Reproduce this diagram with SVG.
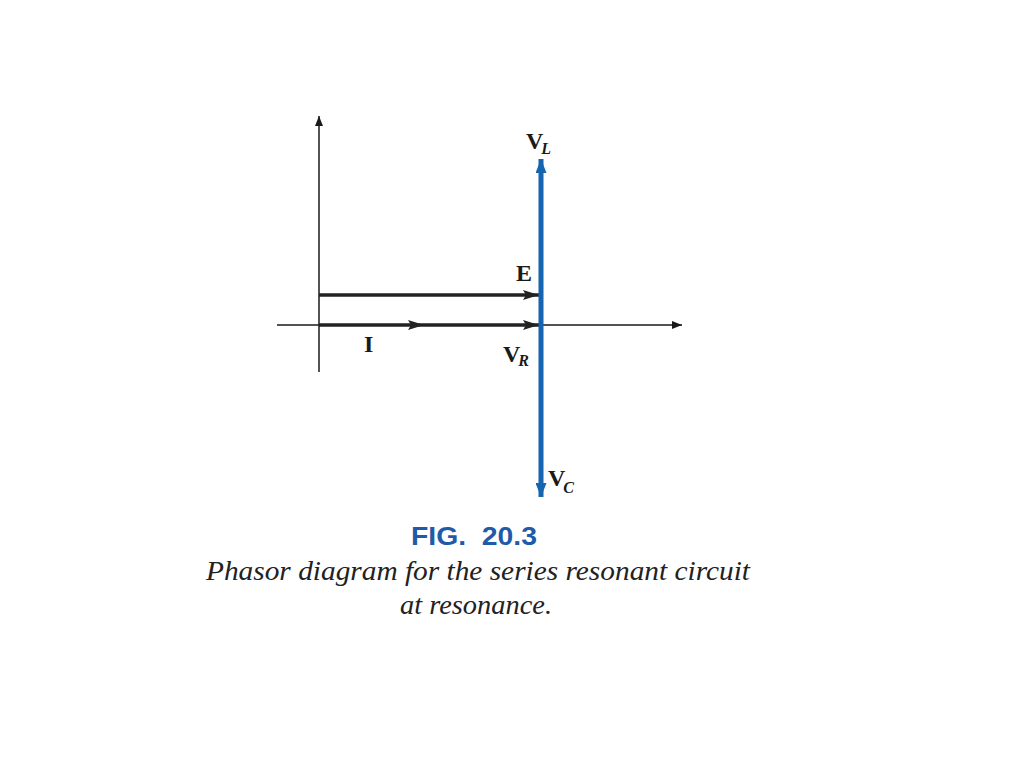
<svg xmlns="http://www.w3.org/2000/svg" width="1024" height="768" viewBox="0 0 1024 768">
<style>
.lbl{font-family:"Liberation Serif",serif;font-size:24px;font-weight:bold;fill:#1a1a1a}
.sub{font-family:"Liberation Serif",serif;font-size:16px;font-style:italic;font-weight:bold;fill:#1a1a1a}
.cap{font-family:"Liberation Serif",serif;font-size:27px;font-style:italic;fill:#222}
.fig{font-family:"Liberation Sans",sans-serif;font-size:25px;font-weight:bold;fill:#1f5ba8}
</style>
<defs>
<marker id="ah" markerWidth="10" markerHeight="8" refX="10" refY="4" orient="auto" markerUnits="userSpaceOnUse">
<path d="M0,0 L10,4 L0,8 Z" fill="#1a1a1a"/>
</marker>
<marker id="ahb" markerWidth="16" markerHeight="10" refX="16" refY="5" orient="auto" markerUnits="userSpaceOnUse">
<path d="M0,0 L16,5 L0,10 L3,5 Z" fill="#222"/>
</marker>
<marker id="ahblue" markerWidth="14" markerHeight="11" refX="14" refY="5.5" orient="auto" markerUnits="userSpaceOnUse">
<path d="M0,0 L14,5.5 L0,11 Z" fill="#1565b0"/>
</marker>
</defs>
<rect width="1024" height="768" fill="#fff"/>
<g id="axes">
<line x1="319" y1="372" x2="319" y2="116" stroke="#1a1a1a" stroke-width="1.5" marker-end="url(#ah)"/>
<line x1="277" y1="325" x2="682" y2="325" stroke="#1a1a1a" stroke-width="1.5" marker-end="url(#ah)"/>
</g>
<g id="connectors">
<line id="E" x1="319" y1="295" x2="539" y2="295" stroke="#222" stroke-width="3.5" marker-end="url(#ahb)"/>
<line id="I" x1="319" y1="325" x2="539" y2="325" stroke="#222" stroke-width="3.5" marker-end="url(#ahb)"/>
<path d="M408,320 L424,325 L408,330 L411,325 Z" fill="#222"/>
<line id="VL" x1="541" y1="325" x2="541" y2="159" stroke="#1565b0" stroke-width="5" marker-end="url(#ahblue)"/>
<line id="VC" x1="541" y1="325" x2="541" y2="497" stroke="#1565b0" stroke-width="5" marker-end="url(#ahblue)"/>
</g>
<g id="labels">
<text class="lbl" x="526" y="149">V<tspan class="sub" dx="-2" dy="5">L</tspan></text>
<text class="lbl" x="516" y="281">E</text>
<text class="lbl" x="364" y="352">I</text>
<text class="lbl" x="503" y="362">V<tspan class="sub" dx="-2" dy="4">R</tspan></text>
<text class="lbl" x="548" y="486">V<tspan class="sub" dx="-2" dy="7">C</tspan></text>
</g>
<g id="caption">
<text class="fig" x="411" y="545" textLength="126" lengthAdjust="spacingAndGlyphs" xml:space="preserve">FIG.  20.3</text>
<text class="cap" x="206" y="580" textLength="544" lengthAdjust="spacingAndGlyphs">Phasor diagram for the series resonant circuit</text>
<text class="cap" x="400" y="614" textLength="152" lengthAdjust="spacingAndGlyphs">at resonance.</text>
</g>
</svg>
